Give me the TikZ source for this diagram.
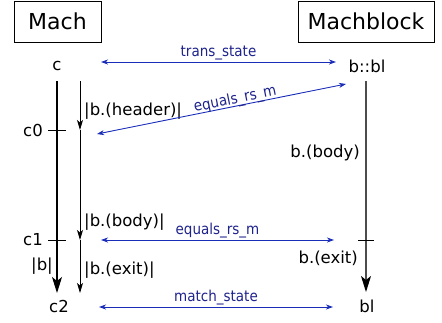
\documentclass[tikz,border=0pt]{standalone}
\usepackage{fontspec}
\setmainfont{DejaVu Sans}
\newfontfamily\condfont{DejaVu Sans Condensed}
\usetikzlibrary{arrows.meta}
\definecolor{lineblue}{RGB}{25,45,185}
\definecolor{textblue}{RGB}{30,35,140}
\begin{document}
\begin{tikzpicture}[x=1pt,y=-1pt,
  title/.style={draw,line width=0.8pt,minimum height=41pt,font=\fontsize{22}{24}\selectfont,inner sep=0pt},
  lbl/.style={font=\fontsize{16.5}{18}\selectfont,inner sep=1pt},
  blbl/.style={font=\condfont\fontsize{15}{16}\selectfont,text=textblue,inner sep=1.5pt},
  barr/.style={draw=lineblue,line width=0.9pt,{Stealth[length=7pt,width=5pt,inset=2pt]}-{Stealth[length=7pt,width=5pt,inset=2pt]}},
  small/.style={line width=1pt,-{Stealth[length=10pt,width=6pt,inset=2.5pt]}},
  big/.style={line width=1.2pt,-{Stealth[length=16pt,width=10pt,inset=4pt,color=black]}},
  tick/.style={line width=0.9pt}]
\useasboundingbox (0,0) rectangle (442,322);
\node[title,minimum width=87pt] (mach) at (57.5,21.5) {Mach};
\node[title,minimum width=136pt] (mb) at (366,21.5) {Machblock};
\node[lbl] (c) at (57,66) {c};
\node[lbl] (bbl) at (367,66) {b::bl};
\node[lbl] (c0) at (33,130) {c0};
\node[lbl] (c1) at (33,240) {c1};
\node[lbl] (c2) at (59,306) {c2};
\node[lbl] (bl) at (367,306) {bl};
\node[lbl,anchor=west] (hdr) at (83,111) {|b.(header)|};
\node[lbl,anchor=west] (bdy) at (83,222) {|b.(body)|};
\node[lbl,anchor=west] (ext) at (83,270) {|b.(exit)|};
\node[lbl] (bb) at (42,266) {|b|};
\node[lbl,anchor=east] (rbody) at (361,153) {b.(body)};
\node[lbl,anchor=east] (rexit) at (359,258) {b.(exit)};
% coordinates
\coordinate (l1t) at (57,81);
\coordinate (l1b) at (57,293);
\coordinate (l2t) at (80,81);
\coordinate (l2a) at (80,130);
\coordinate (l2b) at (80,240);
\coordinate (l2c) at (80,293);
\coordinate (rt) at (366,81);
\coordinate (rb) at (366,292);
\draw[big] (l1t) -- (l1b);
\draw[small] (l2t) -- (l2a);
\draw[small] (l2a) -- (l2b);
\draw[small] (l2b) -- (l2c);
\draw[big,draw=black!70] (rt) -- (rb);
\coordinate (t0a) at (48,130); \coordinate (t0b) at (66,130);
\coordinate (t1a) at (48,240); \coordinate (t1b) at (66,240);
\coordinate (t2a) at (358,240); \coordinate (t2b) at (374,240);
\draw[tick] (t0a) -- (t0b);
\draw[tick] (t1a) -- (t1b);
\draw[tick] (t2a) -- (t2b);
% blue arrows
\coordinate (a1) at (101,62); \coordinate (b1) at (336,62);
\coordinate (a2) at (97,134); \coordinate (b2) at (346,84);
\coordinate (a3) at (101,240); \coordinate (b3) at (334,240);
\coordinate (a4) at (99,307); \coordinate (b4) at (333,307);
\draw[barr] (a1) -- node[blbl,above] (lt) {trans\_state} (b1);
\draw[barr] (a2) -- node[blbl,sloped,pos=0.56,anchor=south,inner sep=0pt,yshift=-1.5pt] (le1) {equals\_rs\_m} (b2);
\draw[barr] (a3) -- node[blbl,above] (le2) {equals\_rs\_m} (b3);
\draw[barr] (a4) -- node[blbl,above] (lm) {match\_state} (b4);
\end{tikzpicture}
\end{document}
